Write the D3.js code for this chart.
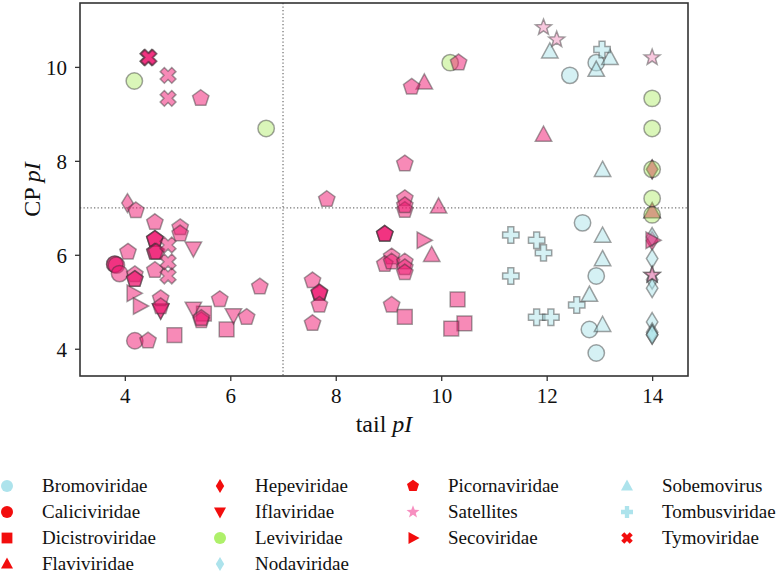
<!DOCTYPE html>
<html><head><meta charset="utf-8">
<script src="https://cdn.jsdelivr.net/npm/d3@7"></script>
<style>body{margin:0;background:#fff}svg{display:block}</style>
</head><body><svg id="c" width="782" height="577" style="font-family:'Liberation Serif','DejaVu Serif',serif"></svg>
<script>
// ---- data (tail pI, CP pI) ----
const families = ["Bromoviridae","Caliciviridae","Dicistroviridae","Flaviviridae","Hepeviridae","Iflaviridae","Leviviridae","Nodaviridae","Picornaviridae","Satellites","Secoviridae","Sobemovirus","Tombusviridae","Tymoviridae"];
const bromoviridae = [[12.44,9.82],[12.94,10.09],[12.68,6.68],[12.94,5.55],[12.81,4.41],[12.94,3.91]];
const caliciviridae = [[3.81,5.80],[3.81,5.80],[3.84,5.78],[3.90,5.60],[4.19,4.17]];
const dicistroviridae = [[4.94,4.29],[5.93,4.41],[5.50,4.75],[9.31,4.68],[10.31,5.05],[10.44,4.54],[10.19,4.43]];
const flaviviridae = [[9.68,9.66],[9.95,7.02],[9.82,5.99],[11.94,8.55],[14.0,6.92],[14.0,6.92]];
const hepeviridae = [[4.05,7.10],[14.0,7.82],[14.0,7.82],[14.0,6.30]];
const iflaviridae = [[5.30,6.14],[4.68,4.82],[4.68,4.82],[5.30,4.86],[6.06,4.72]];
const leviviridae = [[4.18,9.70],[6.68,8.69],[10.17,10.09],[14.0,9.33],[14.0,8.69],[14.0,7.82],[14.0,7.20],[14.0,6.85]];
const nodaviridae = [[14.0,6.38],[14.0,5.92],[14.0,5.47],[14.0,5.29],[14.0,4.57],[14.0,4.35],[14.0,4.30],[14.0,4.30]];
const picornaviridae = [[5.44,9.33],[10.33,10.09],[9.44,9.57],[9.31,7.94],[4.21,6.94],[4.57,6.69],[5.05,6.58],[5.05,6.45],
  [4.57,6.33],[4.57,6.33],[4.57,6.33],[4.57,6.06],[4.57,6.06],[4.60,6.06],[4.06,6.06],[4.19,5.58],[4.19,5.48],[4.19,5.48],
  [4.57,5.67],[4.68,5.07],[4.68,4.90],[5.80,5.05],[6.56,5.32],[5.45,4.60],[5.45,4.65],[6.31,4.67],[4.44,4.17],
  [7.83,7.18],[9.31,7.20],[9.31,6.95],[9.31,7.05],[8.93,6.44],[8.93,6.44],[8.93,6.44],[9.06,5.96],[8.93,5.80],[9.06,5.85],
  [9.31,5.85],[9.31,5.73],[9.31,5.62],[7.56,5.45],[7.69,5.18],[7.69,5.18],[7.69,5.20],[7.69,4.93],[7.56,4.54],[9.06,4.93]];
const satellites = [[11.94,10.84],[12.19,10.58],[14.0,10.20],[14.0,5.57],[14.0,5.57]];
const secoviridae = [[4.16,5.18],[4.28,4.91],[9.66,6.31],[14.0,6.31]];
const sobemovirus = [[12.06,10.32],[13.20,10.18],[12.94,9.93],[13.06,7.80],[13.06,6.40],[13.06,5.90],[12.81,5.14],[13.06,4.50]];
const tombusviridae = [[13.05,10.37],[11.32,6.42],[11.81,6.31],[11.94,6.04],[11.32,5.55],[12.57,4.93],[11.81,4.67],[12.08,4.67]];
const tymoviridae = [[4.44,10.20],[4.44,10.20],[4.46,10.20],[4.82,9.82],[4.82,9.33],[4.82,6.21],[4.82,5.85],[4.82,5.55]];
const xTicks = [4,6,8,10,12,14];
const yTicks = [4,6,8,10];

// ---- styles ----
const FONT = "'Liberation Serif','DejaVu Serif',serif";
const RED = "#f0166f", BLUE = "#abe3ea", GREEN = "#b6ee74", PINK = "#f192be";
const LRED = "#f20d0d", LBLUE = "#ade3ec", LGREEN = "#aef06a", LPINK = "#f78fc0";
const famData = [bromoviridae,caliciviridae,dicistroviridae,flaviviridae,hepeviridae,iflaviridae,leviviridae,nodaviridae,picornaviridae,satellites,secoviridae,sobemovirus,tombusviridae,tymoviridae];
const famColor = [BLUE,RED,RED,RED,RED,RED,GREEN,BLUE,RED,PINK,RED,BLUE,BLUE,RED];
const famLegColor = [LBLUE,LRED,LRED,LRED,LRED,LRED,LGREEN,LBLUE,LRED,LPINK,LRED,LBLUE,LBLUE,LRED];
const famShape = ["circle","circle","square","triUp","diamond","triDown","circle","diamond","pentagon","star","triRight","triUp","plus","x"];

function poly(pts){return "M"+pts.map(p=>p[0].toFixed(2)+","+p[1].toFixed(2)).join("L")+"Z";}
function shapePath(shape, s){
  switch(shape){
    case "circle": return `M${s},0A${s},${s} 0 1,1 ${-s},0A${s},${s} 0 1,1 ${s},0Z`;
    case "square": {const h=s*0.9; return poly([[-h,-h],[h,-h],[h,h],[-h,h]]);}
    case "triUp": return poly([[0,-s*1.1],[s,s*0.75],[-s,s*0.75]]);
    case "triDown": return poly([[0,s*1.1],[s,-s*0.75],[-s,-s*0.75]]);
    case "triRight": return poly([[s*1.1,0],[-s*0.75,s],[-s*0.75,-s]]);
    case "diamond": return poly([[0,-s*1.15],[s*0.7,0],[0,s*1.15],[-s*0.7,0]]);
    case "pentagon": {const r=s*1.05; return poly(d3.range(5).map(i=>{const a=-Math.PI/2+i*2*Math.PI/5;return [r*Math.cos(a),r*Math.sin(a)];}));}
    case "star": {const r=s*1.05, ri=r*0.42; return poly(d3.range(10).map(i=>{const a=-Math.PI/2+i*Math.PI/5,rr=i%2?ri:r;return [rr*Math.cos(a),rr*Math.sin(a)];}));}
    case "plus": {const a=s*1.0,b=s*0.36; return poly([[-b,-a],[b,-a],[b,-b],[a,-b],[a,b],[b,b],[b,a],[-b,a],[-b,b],[-a,b],[-a,-b],[-b,-b]]);}
    case "x": {const a=s*1.0,b=s*0.36; const p=[[-b,-a],[b,-a],[b,-b],[a,-b],[a,b],[b,b],[b,a],[-b,a],[-b,b],[-a,b],[-a,-b],[-b,-b]];
      const c=Math.SQRT1_2; return poly(p.map(([x,y])=>[(x-y)*c,(x+y)*c]));}
  }
}

const svg = d3.select("#c");
const L=80,R=688,T=3,B=376;
const x = d3.scaleLinear().domain([3.15,14.68]).range([L,R]);
const y = d3.scaleLinear().domain([3.42,11.36]).range([B,T]);

svg.append("line").attr("x1",x(7)).attr("x2",x(7)).attr("y1",T).attr("y2",B)
  .attr("stroke","#777").attr("stroke-width",1.3).attr("stroke-dasharray","1.3,2.2");
svg.append("line").attr("x1",L).attr("x2",R).attr("y1",y(7)).attr("y2",y(7))
  .attr("stroke","#777").attr("stroke-width",1.3).attr("stroke-dasharray","1.3,2.2");

const gp = svg.append("g");
famData.forEach((arr,i)=>{
  gp.append("g").selectAll("path").data(arr).join("path")
    .attr("transform",d=>`translate(${x(d[0])},${y(d[1])})`)
    .attr("d",shapePath(famShape[i], famShape[i]==="star"?8:8.2))
    .attr("fill",famColor[i]).attr("fill-opacity",0.5)
    .attr("stroke","#333").attr("stroke-opacity",0.45).attr("stroke-width",1.5);
});

svg.append("rect").attr("x",L).attr("y",T).attr("width",R-L).attr("height",B-T)
  .attr("fill","none").attr("stroke","#333").attr("stroke-width",1.6);

const xa = svg.append("g").attr("transform",`translate(0,${B})`)
  .call(d3.axisBottom(x).tickValues(xTicks).tickSize(5).tickPadding(6).tickFormat(d3.format("d")));
const ya = svg.append("g").attr("transform",`translate(${L},0)`)
  .call(d3.axisLeft(y).tickValues(yTicks).tickSize(5).tickPadding(8).tickFormat(d3.format("d")));
[xa,ya].forEach(a=>{a.select(".domain").remove();
  a.attr("font-family",FONT).attr("font-size",21);
  a.selectAll(".tick line").attr("stroke","#333").attr("stroke-width",1.3);
  a.selectAll(".tick text").style("font-family",FONT).style("font-size","21px").attr("fill","#111");});
xa.selectAll(".tick text").attr("dy","0.75em");
ya.selectAll(".tick text").attr("dy","0.35em");

const xt = svg.append("text").attr("x",(L+R)/2).attr("y",432).attr("text-anchor","middle")
  .style("font-family",FONT).style("font-size","24px").attr("fill","#111");
xt.append("tspan").text("tail ");
xt.append("tspan").attr("font-style","italic").text("pI");
const yt = svg.append("text").attr("transform",`translate(40,${(T+B)/2}) rotate(-90)`).attr("text-anchor","middle")
  .style("font-family",FONT).style("font-size","24px").attr("fill","#111");
yt.append("tspan").text("CP ");
yt.append("tspan").attr("font-style","italic").text("pI");

// legend: 4 columns of 4,4,3,3
const colX = [7,220,413,627], rowY = [486,512,538,564];
const colStart = [0,4,8,11];
const lg = svg.append("g");
families.forEach((name,i)=>{
  let c = 0; for(let k=0;k<4;k++) if(i>=colStart[k]) c=k;
  const r = i - colStart[c];
  const g = lg.append("g").attr("transform",`translate(${colX[c]},${rowY[r]})`);
  g.append("path").attr("d",shapePath(famShape[i], famShape[i]==="star"?6.5:6)).attr("fill",famLegColor[i]);
  g.append("text").attr("x",35).attr("y",0).attr("dy","0.33em")
    .style("font-family",FONT).style("font-size","19px").attr("fill","#111").text(name);
});
</script></body></html>
